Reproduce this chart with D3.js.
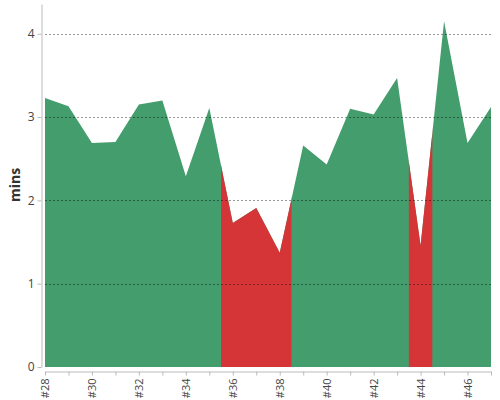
<!DOCTYPE html>
<html>
<head>
<meta charset="utf-8">
<script src="https://cdn.jsdelivr.net/npm/d3@7"></script>
<style>
  body { margin: 0; background: #fff; }
  svg { font-family: "Open Sans", sans-serif; }
  .axis path, .axis line { stroke: #bbb; }
  .axis text { fill: #444; }
</style>
</head>
<body>
<svg id="chart" width="500" height="400"></svg>
<script>
// Race labels and times (minutes)
const races = ["#28", "#29", "#30", "#31", "#32", "#33", "#34", "#35", "#36", "#37",
               "#38", "#39", "#40", "#41", "#42", "#43", "#44", "#45", "#46", "#47"];
const mins = [3.23, 3.13, 2.69, 2.70, 3.15, 3.20, 2.29, 3.11, 1.73, 1.91,
              1.37, 2.66, 2.43, 3.10, 3.03, 3.47, 1.46, 4.15, 2.69, 3.12];
const yTicks = [0, 1, 2, 3, 4];
const threshold = 2;

const data = races.map((r, i) => ({ race: r, i: i, v: mins[i] }));

const svg = d3.select("#chart");

// Scales
const x = d3.scaleLinear()
    .domain([0, races.length - 1])
    .range([45, 491]);

const y = d3.scaleLinear()
    .domain([0, d3.max(mins) * 1.05])
    .range([367, 4]);

const step = x(1) - x(0);

// Clip for the red bands (points below threshold)
const defs = svg.append("defs");
const clip = defs.append("clipPath").attr("id", "lowClip");
clip.selectAll("rect")
    .data(data.filter(d => d.v < threshold))
    .enter()
    .append("rect")
    .attr("x", d => Math.max(x(0), x(d.i) - step / 2))
    .attr("width", step)
    .attr("y", 0)
    .attr("height", 400);

const area = d3.area()
    .x(d => x(d.i))
    .y0(y(0))
    .y1(d => y(d.v));

svg.append("path")
    .datum(data)
    .attr("fill", "#449d6c")
    .attr("d", area);

svg.append("path")
    .datum(data)
    .attr("fill", "#d63537")
    .attr("clip-path", "url(#lowClip)")
    .attr("d", area);

// Grid lines on top of the area
svg.append("g")
    .selectAll("line")
    .data(yTicks.filter(t => t > 0))
    .enter()
    .append("line")
    .attr("x1", x(0))
    .attr("x2", x(races.length - 1))
    .attr("y1", d => Math.round(y(d)) + 0.5)
    .attr("y2", d => Math.round(y(d)) + 0.5)
    .attr("stroke", "rgba(0,0,0,0.4)")
    .attr("stroke-dasharray", "2,2");

// Y axis
const yAxis = svg.append("g")
    .attr("class", "axis")
    .attr("transform", "translate(41.5,0)")
    .call(d3.axisLeft(y).tickValues(yTicks).tickSize(4).tickSizeOuter(0).tickFormat(d3.format("d")));
yAxis.attr("font-family", null);
yAxis.selectAll("text").style("font-size", "12px");

// X axis
const xAxis = svg.append("g")
    .attr("class", "axis")
    .attr("transform", "translate(0,371.5)")
    .call(d3.axisBottom(x)
        .tickValues(d3.range(races.length))
        .tickSize(4)
        .tickSizeOuter(0)
        .tickFormat(i => i % 2 === 0 ? races[i] : ""));
xAxis.attr("font-family", null);
xAxis.selectAll("text")
    .style("font-size", "11px")
    .style("text-anchor", "end")
    .attr("transform", "rotate(-90)")
    .attr("x", -7)
    .attr("y", 0)
    .attr("dy", "0.35em");

// Y axis title
svg.append("text")
    .attr("transform", "translate(20,185) rotate(-90)")
    .style("text-anchor", "middle")
    .style("font-size", "14px")
    .style("font-weight", "bold")
    .style("fill", "#333")
    .text("mins");
</script>
</body>
</html>
